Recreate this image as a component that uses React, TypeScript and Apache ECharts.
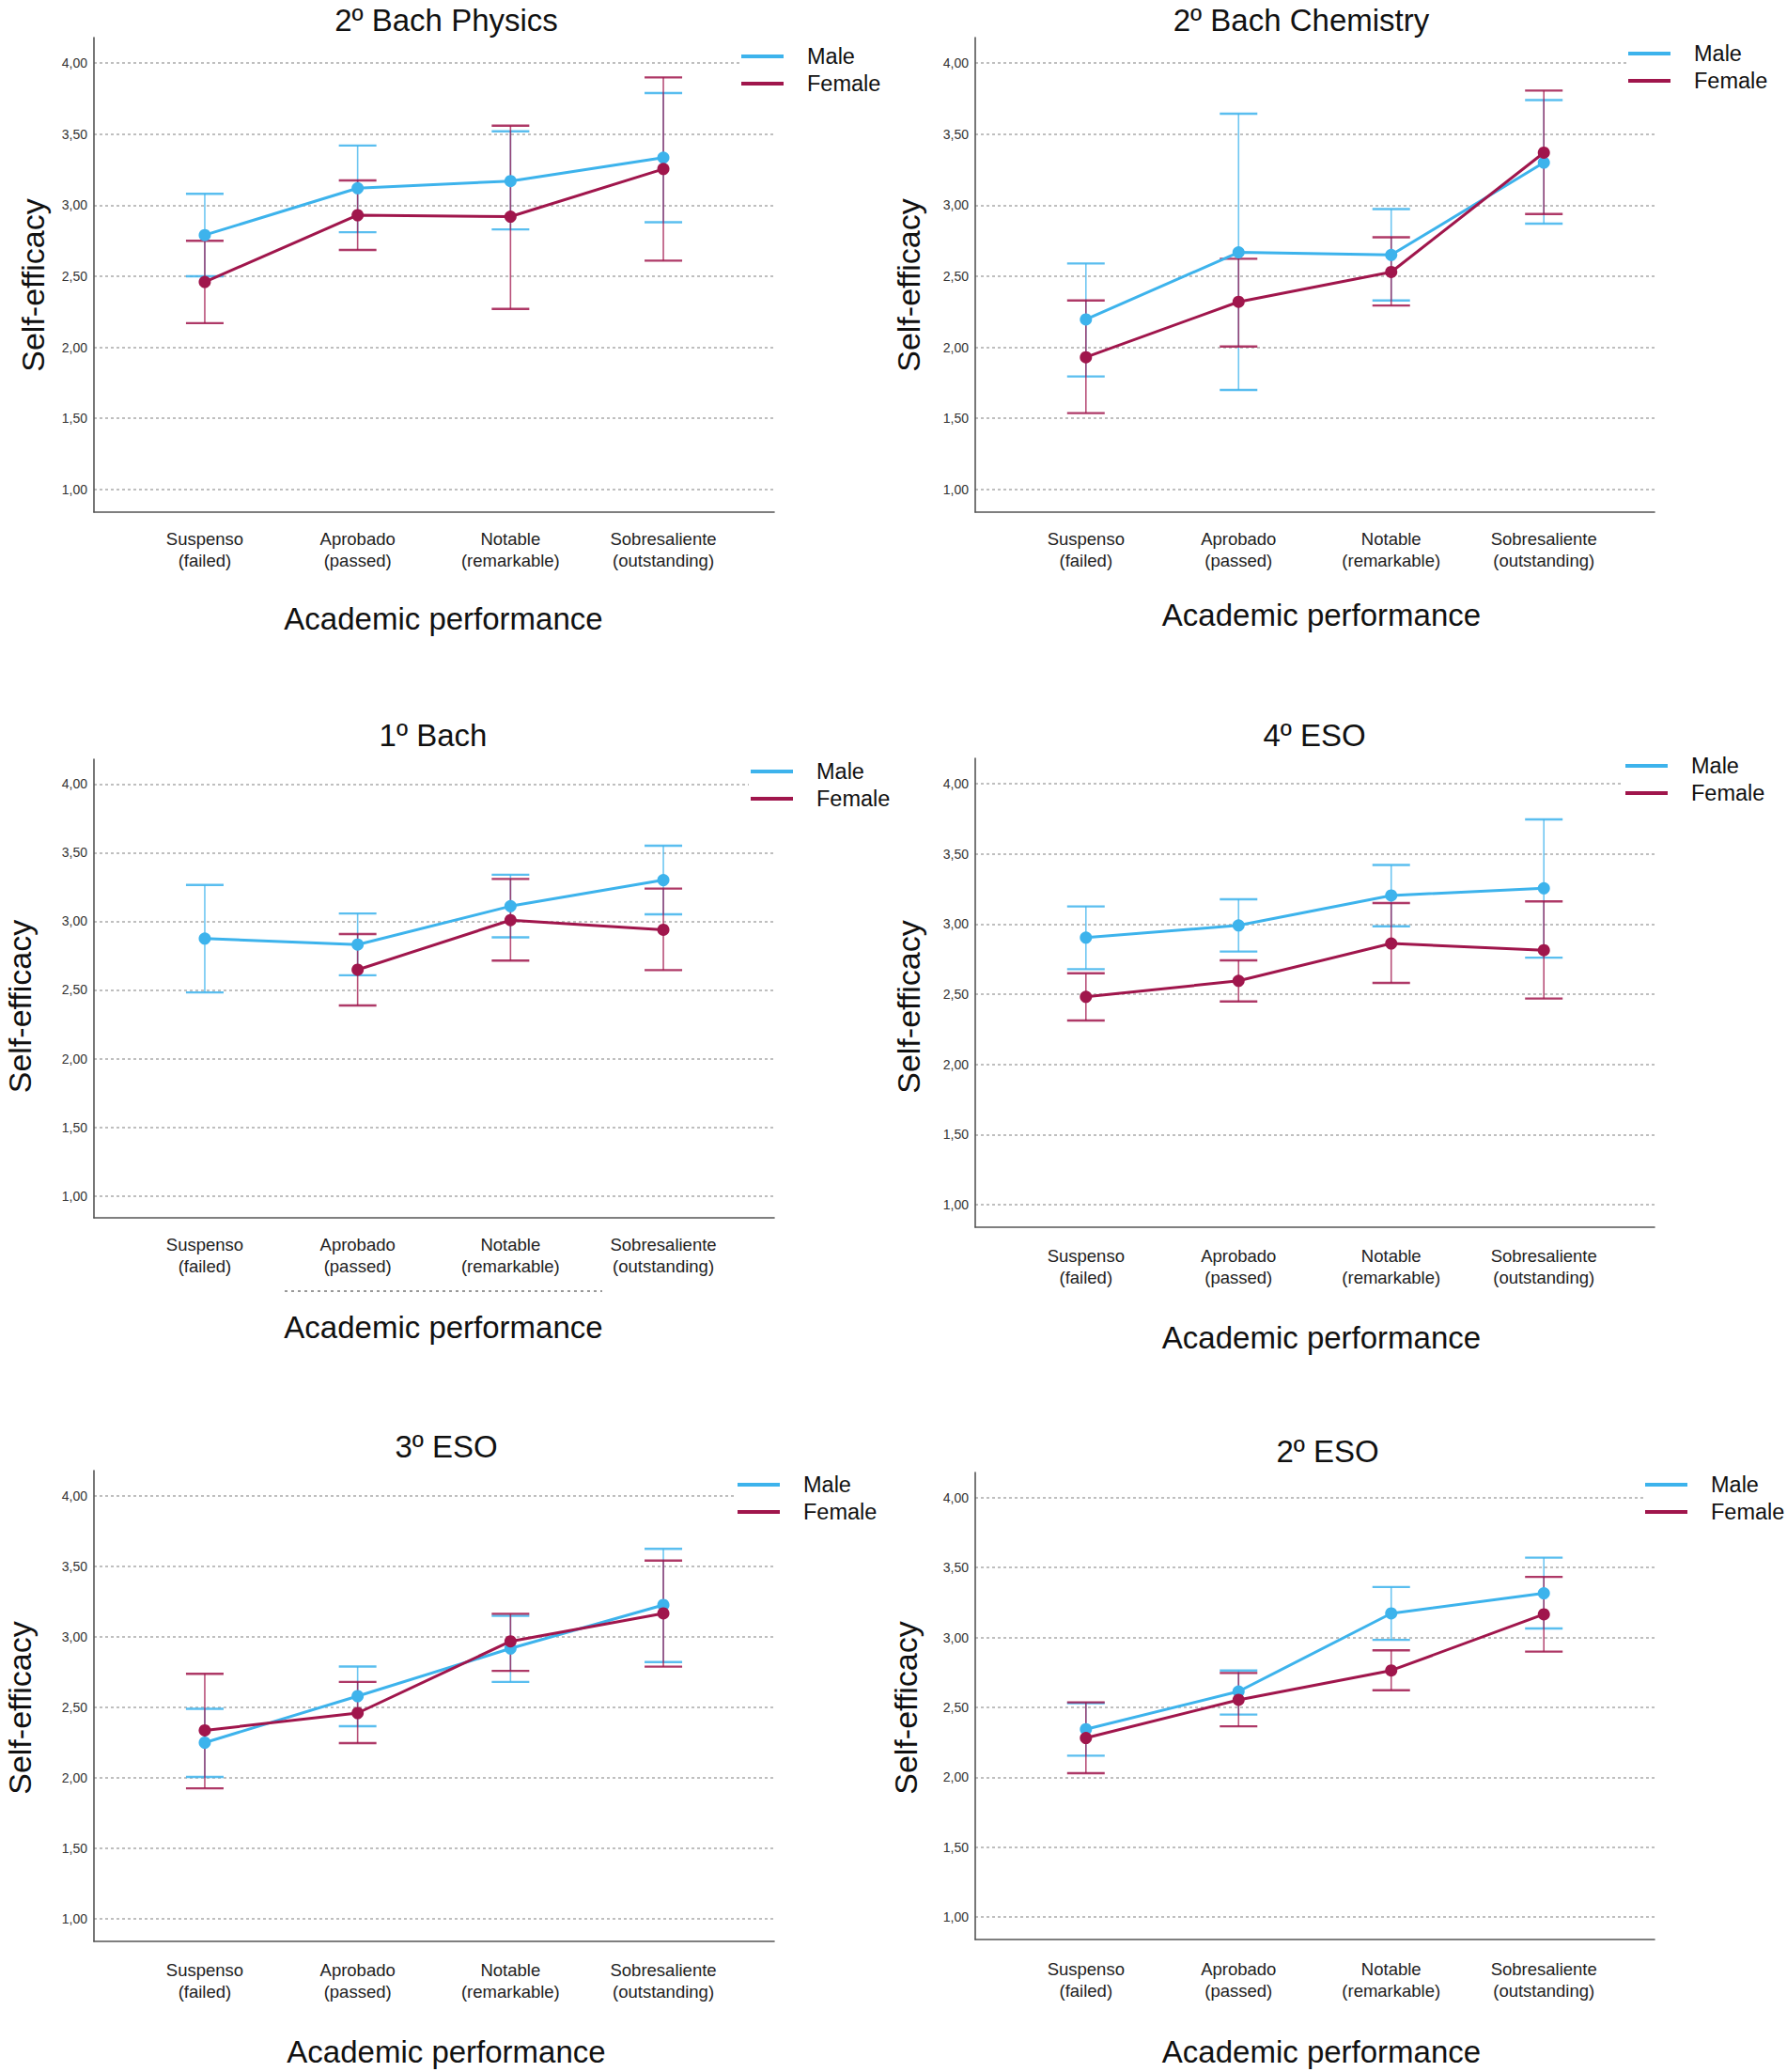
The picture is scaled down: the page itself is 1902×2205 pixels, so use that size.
import React, { useEffect, useRef } from "react";
import * as echarts from "echarts";

// ---------- data ----------
const categories = [
  "Suspenso\n(failed)",
  "Aprobado\n(passed)",
  "Notable\n(remarkable)",
  "Sobresaliente\n(outstanding)",
];
const yTicks = [1, 1.5, 2, 2.5, 3, 3.5, 4];
const legendNames = ["Male", "Female"];

// 2º Bach Physics
const physicsMale = [2.79, 3.12, 3.17, 3.335];
const physicsMaleLow = [2.5, 2.81, 2.83, 2.88];
const physicsMaleHigh = [3.08, 3.42, 3.52, 3.79];
const physicsFemale = [2.46, 2.93, 2.92, 3.255];
const physicsFemaleLow = [2.17, 2.685, 2.27, 2.61];
const physicsFemaleHigh = [2.75, 3.175, 3.56, 3.9];

// 2º Bach Chemistry
const chemistryMale = [2.196, 2.668, 2.65, 3.3];
const chemistryMaleLow = [1.795, 1.7, 2.33, 2.87];
const chemistryMaleHigh = [2.59, 3.644, 2.973, 3.74];
const chemistryFemale = [1.93, 2.32, 2.53, 3.37];
const chemistryFemaleLow = [1.537, 2.006, 2.294, 2.938];
const chemistryFemaleHigh = [2.33, 2.623, 2.775, 3.807];

// 1º Bach
const bach1Male = [2.874, 2.83, 3.11, 3.3];
const bach1MaleLow = [2.482, 2.607, 2.883, 3.051];
const bach1MaleHigh = [3.265, 3.057, 3.339, 3.55];
const bach1Female = [null, 2.647, 3.008, 2.938];
const bach1FemaleLow = [null, 2.387, 2.714, 2.644];
const bach1FemaleHigh = [null, 2.907, 3.308, 3.238];

// 4º ESO
const eso4Male = [2.903, 2.99, 3.203, 3.254];
const eso4MaleLow = [2.678, 2.804, 2.984, 2.76];
const eso4MaleHigh = [3.125, 3.176, 3.42, 3.745];
const eso4Female = [2.481, 2.595, 2.861, 2.813];
const eso4FemaleLow = [2.313, 2.448, 2.58, 2.469];
const eso4FemaleHigh = [2.649, 2.741, 3.149, 3.161];

// 3º ESO
const eso3Male = [2.25, 2.58, 2.918, 3.227];
const eso3MaleLow = [2.007, 2.367, 2.681, 2.822];
const eso3MaleHigh = [2.49, 2.79, 3.15, 3.625];
const eso3Female = [2.337, 2.46, 2.969, 3.167];
const eso3FemaleLow = [1.926, 2.247, 2.759, 2.789];
const eso3FemaleHigh = [2.738, 2.681, 3.164, 3.542];

// 2º ESO
const eso2Male = [2.344, 2.614, 3.172, 3.316];
const eso2MaleLow = [2.155, 2.449, 2.983, 3.064];
const eso2MaleHigh = [2.53, 2.764, 3.361, 3.571];
const eso2Female = [2.281, 2.554, 2.764, 3.166];
const eso2FemaleLow = [2.029, 2.365, 2.623, 2.899];
const eso2FemaleHigh = [2.536, 2.746, 2.908, 3.433];

// ---------- layout / style ----------
const FONT = "'Liberation Sans', Arial, Helvetica, sans-serif";
const MALE = "#3db3ec";
const FEMALE = "#a0164c";

const panels = [
  {
    title: "2º Bach Physics", tx: 475, ty: 21,
    left: 100, width: 724, top: 40, height: 505,
    male: [physicsMale, physicsMaleLow, physicsMaleHigh],
    female: [physicsFemale, physicsFemaleLow, physicsFemaleHigh],
    yGap: 48, yShift: 11, xGap: 97, xShift: 10, labelMargin: 17,
    lgX: 789, lgY: 59,
  },
  {
    title: "2º Bach Chemistry", tx: 1385, ty: 21,
    left: 1038, width: 723, top: 40, height: 505,
    male: [chemistryMale, chemistryMaleLow, chemistryMaleHigh],
    female: [chemistryFemale, chemistryFemaleLow, chemistryFemaleHigh],
    yGap: 54, yShift: 11, xGap: 93, xShift: 7, labelMargin: 17,
    lgX: 1733, lgY: 56,
  },
  {
    title: "1º Bach", tx: 461, ty: 782,
    left: 100, width: 724, top: 808, height: 488,
    male: [bach1Male, bach1MaleLow, bach1MaleHigh],
    female: [bach1Female, bach1FemaleLow, bach1FemaleHigh],
    yGap: 62, yShift: 19, xGap: 100, xShift: 10, labelMargin: 17,
    lgX: 799, lgY: 820,
  },
  {
    title: "4º ESO", tx: 1399, ty: 782,
    left: 1038, width: 723, top: 807, height: 499,
    male: [eso4Male, eso4MaleLow, eso4MaleHigh],
    female: [eso4Female, eso4FemaleLow, eso4FemaleHigh],
    yGap: 54, yShift: 15, xGap: 101, xShift: 7, labelMargin: 19,
    lgX: 1730, lgY: 814,
  },
  {
    title: "3º ESO", tx: 475, ty: 1539,
    left: 100, width: 724, top: 1565, height: 501,
    male: [eso3Male, eso3MaleLow, eso3MaleHigh],
    female: [eso3Female, eso3FemaleLow, eso3FemaleHigh],
    yGap: 62, yShift: 2, xGap: 101, xShift: 13, labelMargin: 19,
    lgX: 785, lgY: 1579,
  },
  {
    title: "2º ESO", tx: 1413, ty: 1544,
    left: 1038, width: 723, top: 1567, height: 497,
    male: [eso2Male, eso2MaleLow, eso2MaleHigh],
    female: [eso2Female, eso2FemaleLow, eso2FemaleHigh],
    yGap: 57, yShift: 2, xGap: 103, xShift: 7, labelMargin: 20,
    lgX: 1751, lgY: 1579,
  },
];

function errorSeries(name: string, color: string, idx: number, low: any[], high: any[]) {
  const data: any[] = [];
  low.forEach((lo, i) => {
    if (lo != null && high[i] != null) data.push([i, lo, high[i]]);
  });
  return {
    type: "custom",
    name,
    xAxisIndex: idx,
    yAxisIndex: idx,
    z: 2,
    silent: true,
    encode: { x: 0, y: [1, 2] },
    data,
    renderItem: (params: any, api: any) => {
      const x = api.value(0);
      const pLo = api.coord([x, api.value(1)]);
      const pHi = api.coord([x, api.value(2)]);
      const hw = 20;
      return {
        type: "group",
        children: [
          { type: "line", shape: { x1: pLo[0], y1: pLo[1], x2: pHi[0], y2: pHi[1] }, style: { stroke: color, lineWidth: 1.6, opacity: 0.75 } },
          { type: "line", shape: { x1: pLo[0] - hw, y1: pLo[1], x2: pLo[0] + hw, y2: pLo[1] }, style: { stroke: color, lineWidth: 2.4, opacity: 0.85 } },
          { type: "line", shape: { x1: pHi[0] - hw, y1: pHi[1], x2: pHi[0] + hw, y2: pHi[1] }, style: { stroke: color, lineWidth: 2.4, opacity: 0.85 } },
        ],
      };
    },
  };
}

function lineSeries(name: string, color: string, idx: number, values: any[]) {
  return {
    type: "line",
    name,
    xAxisIndex: idx,
    yAxisIndex: idx,
    z: 3,
    data: values.map((v, i) => [i, v == null ? "-" : v]),
    symbol: "circle",
    symbolSize: 13,
    showSymbol: true,
    connectNulls: false,
    lineStyle: { color, width: 3 },
    itemStyle: { color },
  };
}

function buildOption() {
  const grid: any[] = [];
  const xAxis: any[] = [];
  const yAxis: any[] = [];
  const series: any[] = [];
  const legend: any[] = [];
  const graphic: any[] = [];

  panels.forEach((p, i) => {
    grid.push({ left: p.left, top: p.top, width: p.width, height: p.height, containLabel: false, outerBoundsMode: "none" });
    xAxis.push({
      type: "value",
      gridIndex: i,
      min: -0.725,
      max: 3.725,
      name: "Academic performance",
      nameLocation: "middle",
      nameGap: p.xGap,
      nameMoveOverlap: false,
      nameTextStyle: { fontFamily: FONT, fontSize: 33, color: "#111", padding: [0, 0, 0, 2 * p.xShift] },
      axisLine: { show: true, onZero: false, lineStyle: { color: "#555", width: 1.6 } },
      axisTick: { show: false, customValues: [0, 1, 2, 3] },
      splitLine: { show: false },
      axisLabel: {
        customValues: [0, 1, 2, 3],
        formatter: (v: number) => categories[Math.round(v)] ?? "",
        fontFamily: FONT,
        fontSize: 18.5,
        lineHeight: 23,
        color: "#222",
        margin: p.labelMargin,
        align: "center",
      },
    });
    yAxis.push({
      type: "value",
      gridIndex: i,
      min: 0.84,
      max: 4.18,
      name: "Self-efficacy",
      nameLocation: "middle",
      nameGap: p.yGap,
      nameMoveOverlap: false,
      nameTextStyle: { fontFamily: FONT, fontSize: 34, color: "#111", padding: [0, 2 * p.yShift, 0, 0] },
      axisLine: { show: true, onZero: false, lineStyle: { color: "#555", width: 1.6 } },
      axisTick: { show: false, customValues: yTicks },
      axisLabel: {
        customValues: yTicks,
        formatter: (v: number) => v.toFixed(2).replace(".", ","),
        fontFamily: FONT,
        fontSize: 14,
        color: "#333",
        margin: 7,
      },
      splitLine: { show: true, lineStyle: { color: "#aaa", width: 1.5, type: [3, 3] } },
    });
    series.push(errorSeries("Male CI", MALE, i, p.male[1], p.male[2]));
    series.push(errorSeries("Female CI", FEMALE, i, p.female[1], p.female[2]));
    series.push(lineSeries("Male", MALE, i, p.male[0]));
    series.push(lineSeries("Female", FEMALE, i, p.female[0]));
    legend.push({
      data: legendNames,
      orient: "vertical",
      left: p.lgX - 2,
      top: p.lgY - 13,
      icon: "rect",
      itemWidth: 45,
      itemHeight: 4,
      itemGap: 5,
      padding: 2,
      backgroundColor: "#fff",
      selectedMode: false,
      textStyle: { fontFamily: FONT, fontSize: 23.5, lineHeight: 22, color: "#111", padding: [0, 0, 0, 20] },
    });
    graphic.push({
      type: "text",
      x: p.tx,
      y: p.ty,
      z: 10,
      style: { text: p.title, fontFamily: FONT, fontSize: 33, fill: "#111", align: "center", verticalAlign: "middle" },
    });
  });

  // faint dashed artefact under the 1º Bach category labels
  graphic.push({
    type: "line",
    shape: { x1: 303, y1: 1374, x2: 641, y2: 1374 },
    style: { stroke: "#999", lineWidth: 2, lineDash: [3, 4] },
  });

  return {
    animation: false,
    backgroundColor: "#fff",
    textStyle: { fontFamily: FONT },
    grid,
    xAxis,
    yAxis,
    legend,
    series,
    graphic,
  };
}

export default function App() {
  const ref = useRef<HTMLDivElement>(null);
  useEffect(() => {
    if (!ref.current) return;
    const chart = echarts.init(ref.current, undefined, { renderer: "svg" });
    chart.setOption(buildOption() as any);
    return () => chart.dispose();
  }, []);
  return (
    <div
      ref={ref}
      style={{ position: "absolute", left: 0, top: 0, width: 1902, height: 2205, background: "#fff" }}
    />
  );
}
